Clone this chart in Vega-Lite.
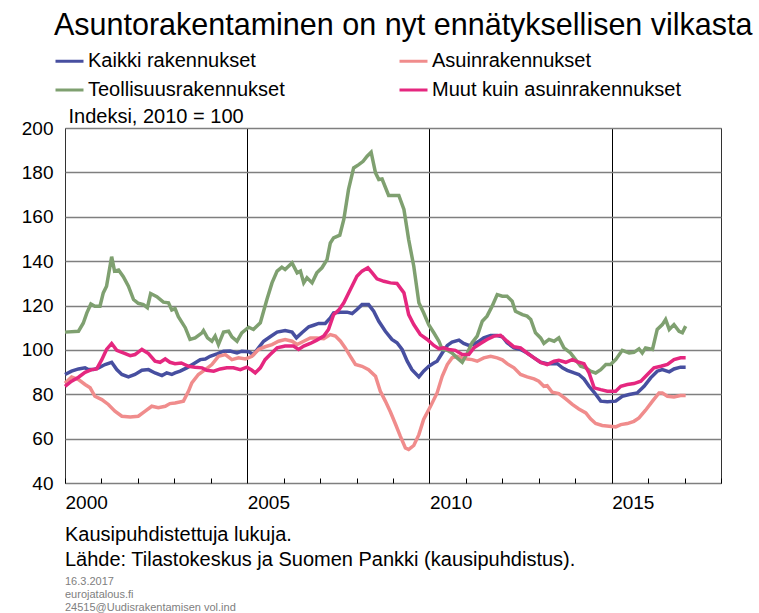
{
"$schema": "https://vega.github.io/schema/vega-lite/v6.json",
"width": 656, "height": 355,
"autosize": {"type": "none"},
"padding": {"left": 65, "top": 128, "right": 38, "bottom": 130},
"background": "white",
"title": {"text": ["Kausipuhdistettuja lukuja.", "Lähde: Tilastokeskus ja Suomen Pankki (kausipuhdistus)."], "subtitle": ["16.3.2017", "eurojatalous.fi", "24515@Uudisrakentamisen vol.ind"], "orient": "bottom", "anchor": "start", "frame": "group", "fontSize": 20, "fontWeight": "normal", "lineHeight": 25, "offset": 13, "subtitleFontSize": 11, "subtitleColor": "#808080", "subtitleLineHeight": 13, "subtitlePadding": 6, "color": "black", "baseline": "top"},
"data": {"values": [
{"s":"Kaikki rakennukset","t":2000.00,"v":88.9},{"s":"Kaikki rakennukset","t":2000.18,"v":90.4},{"s":"Kaikki rakennukset","t":2000.37,"v":91.4},{"s":"Kaikki rakennukset","t":2000.55,"v":91.9},{"s":"Kaikki rakennukset","t":2000.64,"v":91.1},{"s":"Kaikki rakennukset","t":2000.78,"v":91.1},{"s":"Kaikki rakennukset","t":2000.92,"v":91.9},{"s":"Kaikki rakennukset","t":2001.10,"v":93.4},{"s":"Kaikki rakennukset","t":2001.28,"v":94.4},{"s":"Kaikki rakennukset","t":2001.42,"v":91.1},{"s":"Kaikki rakennukset","t":2001.56,"v":88.9},{"s":"Kaikki rakennukset","t":2001.74,"v":87.8},{"s":"Kaikki rakennukset","t":2001.92,"v":88.9},{"s":"Kaikki rakennukset","t":2002.11,"v":90.8},{"s":"Kaikki rakennukset","t":2002.29,"v":91.1},{"s":"Kaikki rakennukset","t":2002.47,"v":89.6},{"s":"Kaikki rakennukset","t":2002.66,"v":88.4},{"s":"Kaikki rakennukset","t":2002.79,"v":89.6},{"s":"Kaikki rakennukset","t":2002.93,"v":88.9},{"s":"Kaikki rakennukset","t":2003.02,"v":89.6},{"s":"Kaikki rakennukset","t":2003.16,"v":90.4},{"s":"Kaikki rakennukset","t":2003.34,"v":91.9},{"s":"Kaikki rakennukset","t":2003.53,"v":93.8},{"s":"Kaikki rakennukset","t":2003.71,"v":95.6},{"s":"Kaikki rakennukset","t":2003.85,"v":95.9},{"s":"Kaikki rakennukset","t":2003.98,"v":97.1},{"s":"Kaikki rakennukset","t":2004.17,"v":98.2},{"s":"Kaikki rakennukset","t":2004.35,"v":99.4},{"s":"Kaikki rakennukset","t":2004.53,"v":99.5},{"s":"Kaikki rakennukset","t":2004.72,"v":98.6},{"s":"Kaikki rakennukset","t":2004.85,"v":99.4},{"s":"Kaikki rakennukset","t":2005.04,"v":99.2},{"s":"Kaikki rakennukset","t":2005.17,"v":97.9},{"s":"Kaikki rakennukset","t":2005.31,"v":100.9},{"s":"Kaikki rakennukset","t":2005.45,"v":103.9},{"s":"Kaikki rakennukset","t":2005.63,"v":105.9},{"s":"Kaikki rakennukset","t":2005.82,"v":108},{"s":"Kaikki rakennukset","t":2006.04,"v":108.7},{"s":"Kaikki rakennukset","t":2006.23,"v":108},{"s":"Kaikki rakennukset","t":2006.35,"v":105.4},{"s":"Kaikki rakennukset","t":2006.50,"v":107.7},{"s":"Kaikki rakennukset","t":2006.69,"v":110.4},{"s":"Kaikki rakennukset","t":2006.82,"v":111.1},{"s":"Kaikki rakennukset","t":2006.96,"v":111.9},{"s":"Kaikki rakennukset","t":2007.14,"v":111.9},{"s":"Kaikki rakennukset","t":2007.28,"v":114.4},{"s":"Kaikki rakennukset","t":2007.37,"v":116.7},{"s":"Kaikki rakennukset","t":2007.56,"v":117},{"s":"Kaikki rakennukset","t":2007.74,"v":117},{"s":"Kaikki rakennukset","t":2007.88,"v":116.4},{"s":"Kaikki rakennukset","t":2008.01,"v":118.2},{"s":"Kaikki rakennukset","t":2008.15,"v":120.4},{"s":"Kaikki rakennukset","t":2008.33,"v":120.4},{"s":"Kaikki rakennukset","t":2008.47,"v":117.4},{"s":"Kaikki rakennukset","t":2008.61,"v":112.9},{"s":"Kaikki rakennukset","t":2008.79,"v":108.4},{"s":"Kaikki rakennukset","t":2008.97,"v":104.7},{"s":"Kaikki rakennukset","t":2009.11,"v":103.2},{"s":"Kaikki rakennukset","t":2009.25,"v":100.2},{"s":"Kaikki rakennukset","t":2009.39,"v":94.9},{"s":"Kaikki rakennukset","t":2009.52,"v":91.1},{"s":"Kaikki rakennukset","t":2009.71,"v":87.8},{"s":"Kaikki rakennukset","t":2009.84,"v":90.4},{"s":"Kaikki rakennukset","t":2009.98,"v":92.6},{"s":"Kaikki rakennukset","t":2010.12,"v":94.1},{"s":"Kaikki rakennukset","t":2010.21,"v":94.9},{"s":"Kaikki rakennukset","t":2010.35,"v":98.6},{"s":"Kaikki rakennukset","t":2010.49,"v":102},{"s":"Kaikki rakennukset","t":2010.62,"v":103.5},{"s":"Kaikki rakennukset","t":2010.81,"v":104.4},{"s":"Kaikki rakennukset","t":2010.94,"v":102.9},{"s":"Kaikki rakennukset","t":2011.08,"v":102},{"s":"Kaikki rakennukset","t":2011.22,"v":102.6},{"s":"Kaikki rakennukset","t":2011.36,"v":103.9},{"s":"Kaikki rakennukset","t":2011.49,"v":105.4},{"s":"Kaikki rakennukset","t":2011.68,"v":106.5},{"s":"Kaikki rakennukset","t":2011.86,"v":106.5},{"s":"Kaikki rakennukset","t":2012.00,"v":105.9},{"s":"Kaikki rakennukset","t":2012.13,"v":103.2},{"s":"Kaikki rakennukset","t":2012.32,"v":100.9},{"s":"Kaikki rakennukset","t":2012.50,"v":100.2},{"s":"Kaikki rakennukset","t":2012.68,"v":98.6},{"s":"Kaikki rakennukset","t":2012.87,"v":96.4},{"s":"Kaikki rakennukset","t":2013.05,"v":94.4},{"s":"Kaikki rakennukset","t":2013.23,"v":93.8},{"s":"Kaikki rakennukset","t":2013.51,"v":93.8},{"s":"Kaikki rakennukset","t":2013.65,"v":91.9},{"s":"Kaikki rakennukset","t":2013.78,"v":90.8},{"s":"Kaikki rakennukset","t":2013.97,"v":89.6},{"s":"Kaikki rakennukset","t":2014.10,"v":88.9},{"s":"Kaikki rakennukset","t":2014.24,"v":86.9},{"s":"Kaikki rakennukset","t":2014.38,"v":83.6},{"s":"Kaikki rakennukset","t":2014.52,"v":80.9},{"s":"Kaikki rakennukset","t":2014.70,"v":76.9},{"s":"Kaikki rakennukset","t":2014.88,"v":76.6},{"s":"Kaikki rakennukset","t":2015.11,"v":76.9},{"s":"Kaikki rakennukset","t":2015.29,"v":79.1},{"s":"Kaikki rakennukset","t":2015.48,"v":79.9},{"s":"Kaikki rakennukset","t":2015.70,"v":80.6},{"s":"Kaikki rakennukset","t":2015.89,"v":83.6},{"s":"Kaikki rakennukset","t":2016.07,"v":87.4},{"s":"Kaikki rakennukset","t":2016.25,"v":90.4},{"s":"Kaikki rakennukset","t":2016.39,"v":91.1},{"s":"Kaikki rakennukset","t":2016.58,"v":90.1},{"s":"Kaikki rakennukset","t":2016.71,"v":91.4},{"s":"Kaikki rakennukset","t":2016.89,"v":92.2},{"s":"Kaikki rakennukset","t":2017.03,"v":92.2},
{"s":"Asuinrakennukset","t":2000.00,"v":85},{"s":"Asuinrakennukset","t":2000.18,"v":87.8},{"s":"Asuinrakennukset","t":2000.37,"v":86.6},{"s":"Asuinrakennukset","t":2000.55,"v":84.4},{"s":"Asuinrakennukset","t":2000.69,"v":82.9},{"s":"Asuinrakennukset","t":2000.82,"v":79.1},{"s":"Asuinrakennukset","t":2001.01,"v":77.6},{"s":"Asuinrakennukset","t":2001.19,"v":75.4},{"s":"Asuinrakennukset","t":2001.37,"v":72.4},{"s":"Asuinrakennukset","t":2001.56,"v":70.1},{"s":"Asuinrakennukset","t":2001.79,"v":69.8},{"s":"Asuinrakennukset","t":2002.01,"v":70.1},{"s":"Asuinrakennukset","t":2002.20,"v":72.4},{"s":"Asuinrakennukset","t":2002.38,"v":74.6},{"s":"Asuinrakennukset","t":2002.56,"v":73.9},{"s":"Asuinrakennukset","t":2002.75,"v":74.6},{"s":"Asuinrakennukset","t":2002.88,"v":75.8},{"s":"Asuinrakennukset","t":2003.02,"v":76.1},{"s":"Asuinrakennukset","t":2003.25,"v":76.9},{"s":"Asuinrakennukset","t":2003.39,"v":81.4},{"s":"Asuinrakennukset","t":2003.48,"v":85.1},{"s":"Asuinrakennukset","t":2003.66,"v":88.9},{"s":"Asuinrakennukset","t":2003.85,"v":91.1},{"s":"Asuinrakennukset","t":2004.03,"v":93.4},{"s":"Asuinrakennukset","t":2004.21,"v":97.1},{"s":"Asuinrakennukset","t":2004.40,"v":97.9},{"s":"Asuinrakennukset","t":2004.58,"v":95.6},{"s":"Asuinrakennukset","t":2004.76,"v":96.4},{"s":"Asuinrakennukset","t":2004.95,"v":95.9},{"s":"Asuinrakennukset","t":2005.13,"v":97.1},{"s":"Asuinrakennukset","t":2005.31,"v":100.2},{"s":"Asuinrakennukset","t":2005.49,"v":101.4},{"s":"Asuinrakennukset","t":2005.68,"v":102.4},{"s":"Asuinrakennukset","t":2005.86,"v":103.9},{"s":"Asuinrakennukset","t":2006.04,"v":104.7},{"s":"Asuinrakennukset","t":2006.23,"v":103.9},{"s":"Asuinrakennukset","t":2006.37,"v":102.4},{"s":"Asuinrakennukset","t":2006.55,"v":103.9},{"s":"Asuinrakennukset","t":2006.73,"v":105.4},{"s":"Asuinrakennukset","t":2006.91,"v":105.4},{"s":"Asuinrakennukset","t":2007.10,"v":105},{"s":"Asuinrakennukset","t":2007.28,"v":106.9},{"s":"Asuinrakennukset","t":2007.42,"v":106.2},{"s":"Asuinrakennukset","t":2007.56,"v":103.9},{"s":"Asuinrakennukset","t":2007.69,"v":100.9},{"s":"Asuinrakennukset","t":2007.83,"v":97.1},{"s":"Asuinrakennukset","t":2007.97,"v":93.4},{"s":"Asuinrakennukset","t":2008.15,"v":92.6},{"s":"Asuinrakennukset","t":2008.33,"v":91.1},{"s":"Asuinrakennukset","t":2008.52,"v":88.1},{"s":"Asuinrakennukset","t":2008.65,"v":81.4},{"s":"Asuinrakennukset","t":2008.79,"v":76.9},{"s":"Asuinrakennukset","t":2008.93,"v":72},{"s":"Asuinrakennukset","t":2009.07,"v":66.5},{"s":"Asuinrakennukset","t":2009.20,"v":61.1},{"s":"Asuinrakennukset","t":2009.34,"v":55.8},{"s":"Asuinrakennukset","t":2009.43,"v":55.1},{"s":"Asuinrakennukset","t":2009.57,"v":56.9},{"s":"Asuinrakennukset","t":2009.71,"v":61.8},{"s":"Asuinrakennukset","t":2009.84,"v":68.6},{"s":"Asuinrakennukset","t":2010.03,"v":74.6},{"s":"Asuinrakennukset","t":2010.21,"v":80.6},{"s":"Asuinrakennukset","t":2010.35,"v":88.1},{"s":"Asuinrakennukset","t":2010.49,"v":93.4},{"s":"Asuinrakennukset","t":2010.62,"v":96.4},{"s":"Asuinrakennukset","t":2010.76,"v":97.1},{"s":"Asuinrakennukset","t":2010.90,"v":96.4},{"s":"Asuinrakennukset","t":2011.04,"v":95.9},{"s":"Asuinrakennukset","t":2011.17,"v":95.6},{"s":"Asuinrakennukset","t":2011.31,"v":94.9},{"s":"Asuinrakennukset","t":2011.49,"v":96.4},{"s":"Asuinrakennukset","t":2011.68,"v":97.1},{"s":"Asuinrakennukset","t":2011.86,"v":96.4},{"s":"Asuinrakennukset","t":2012.00,"v":95.5},{"s":"Asuinrakennukset","t":2012.13,"v":93.8},{"s":"Asuinrakennukset","t":2012.32,"v":91.9},{"s":"Asuinrakennukset","t":2012.50,"v":88.9},{"s":"Asuinrakennukset","t":2012.68,"v":87.8},{"s":"Asuinrakennukset","t":2012.87,"v":86.9},{"s":"Asuinrakennukset","t":2013.00,"v":85.9},{"s":"Asuinrakennukset","t":2013.14,"v":83.6},{"s":"Asuinrakennukset","t":2013.23,"v":83.9},{"s":"Asuinrakennukset","t":2013.37,"v":80.9},{"s":"Asuinrakennukset","t":2013.55,"v":80.3},{"s":"Asuinrakennukset","t":2013.74,"v":77.9},{"s":"Asuinrakennukset","t":2013.92,"v":75.4},{"s":"Asuinrakennukset","t":2014.10,"v":73.4},{"s":"Asuinrakennukset","t":2014.29,"v":71.6},{"s":"Asuinrakennukset","t":2014.42,"v":68.9},{"s":"Asuinrakennukset","t":2014.56,"v":66.8},{"s":"Asuinrakennukset","t":2014.74,"v":65.9},{"s":"Asuinrakennukset","t":2014.93,"v":65.6},{"s":"Asuinrakennukset","t":2015.11,"v":65.3},{"s":"Asuinrakennukset","t":2015.25,"v":66.3},{"s":"Asuinrakennukset","t":2015.43,"v":66.8},{"s":"Asuinrakennukset","t":2015.61,"v":67.8},{"s":"Asuinrakennukset","t":2015.75,"v":69.3},{"s":"Asuinrakennukset","t":2015.93,"v":72.8},{"s":"Asuinrakennukset","t":2016.12,"v":76.9},{"s":"Asuinrakennukset","t":2016.30,"v":80.6},{"s":"Asuinrakennukset","t":2016.39,"v":80.6},{"s":"Asuinrakennukset","t":2016.53,"v":79.1},{"s":"Asuinrakennukset","t":2016.71,"v":78.8},{"s":"Asuinrakennukset","t":2016.89,"v":79.4},{"s":"Asuinrakennukset","t":2017.03,"v":79.4},
{"s":"Teollisuusrakennukset","t":2000.00,"v":108},{"s":"Teollisuusrakennukset","t":2000.37,"v":108.4},{"s":"Teollisuusrakennukset","t":2000.50,"v":112},{"s":"Teollisuusrakennukset","t":2000.60,"v":116.7},{"s":"Teollisuusrakennukset","t":2000.71,"v":120.7},{"s":"Teollisuusrakennukset","t":2000.82,"v":119.7},{"s":"Teollisuusrakennukset","t":2000.96,"v":119.7},{"s":"Teollisuusrakennukset","t":2001.05,"v":125.7},{"s":"Teollisuusrakennukset","t":2001.14,"v":128.7},{"s":"Teollisuusrakennukset","t":2001.28,"v":142},{"s":"Teollisuusrakennukset","t":2001.36,"v":135.5},{"s":"Teollisuusrakennukset","t":2001.47,"v":136},{"s":"Teollisuusrakennukset","t":2001.60,"v":133},{"s":"Teollisuusrakennukset","t":2001.74,"v":128.7},{"s":"Teollisuusrakennukset","t":2001.88,"v":122.7},{"s":"Teollisuusrakennukset","t":2002.01,"v":121},{"s":"Teollisuusrakennukset","t":2002.15,"v":120.4},{"s":"Teollisuusrakennukset","t":2002.26,"v":119},{"s":"Teollisuusrakennukset","t":2002.35,"v":125.4},{"s":"Teollisuusrakennukset","t":2002.52,"v":124},{"s":"Teollisuusrakennukset","t":2002.70,"v":121.5},{"s":"Teollisuusrakennukset","t":2002.84,"v":121.2},{"s":"Teollisuusrakennukset","t":2002.93,"v":118},{"s":"Teollisuusrakennukset","t":2003.02,"v":118.6},{"s":"Teollisuusrakennukset","t":2003.11,"v":115},{"s":"Teollisuusrakennukset","t":2003.30,"v":110},{"s":"Teollisuusrakennukset","t":2003.43,"v":104.7},{"s":"Teollisuusrakennukset","t":2003.57,"v":105.4},{"s":"Teollisuusrakennukset","t":2003.76,"v":107.7},{"s":"Teollisuusrakennukset","t":2003.80,"v":108.7},{"s":"Teollisuusrakennukset","t":2003.91,"v":105.4},{"s":"Teollisuusrakennukset","t":2004.03,"v":103.9},{"s":"Teollisuusrakennukset","t":2004.12,"v":106.2},{"s":"Teollisuusrakennukset","t":2004.21,"v":102.4},{"s":"Teollisuusrakennukset","t":2004.35,"v":108},{"s":"Teollisuusrakennukset","t":2004.49,"v":108.4},{"s":"Teollisuusrakennukset","t":2004.58,"v":105.9},{"s":"Teollisuusrakennukset","t":2004.72,"v":103.9},{"s":"Teollisuusrakennukset","t":2004.85,"v":107.7},{"s":"Teollisuusrakennukset","t":2005.04,"v":110.2},{"s":"Teollisuusrakennukset","t":2005.17,"v":109.2},{"s":"Teollisuusrakennukset","t":2005.36,"v":112.2},{"s":"Teollisuusrakennukset","t":2005.54,"v":122.7},{"s":"Teollisuusrakennukset","t":2005.68,"v":130.2},{"s":"Teollisuusrakennukset","t":2005.82,"v":135.5},{"s":"Teollisuusrakennukset","t":2005.95,"v":137.3},{"s":"Teollisuusrakennukset","t":2006.04,"v":136.2},{"s":"Teollisuusrakennukset","t":2006.23,"v":139.2},{"s":"Teollisuusrakennukset","t":2006.37,"v":134.7},{"s":"Teollisuusrakennukset","t":2006.46,"v":135.5},{"s":"Teollisuusrakennukset","t":2006.55,"v":130.2},{"s":"Teollisuusrakennukset","t":2006.64,"v":132.5},{"s":"Teollisuusrakennukset","t":2006.78,"v":130.2},{"s":"Teollisuusrakennukset","t":2006.91,"v":134.7},{"s":"Teollisuusrakennukset","t":2007.05,"v":137},{"s":"Teollisuusrakennukset","t":2007.19,"v":140.7},{"s":"Teollisuusrakennukset","t":2007.28,"v":148.2},{"s":"Teollisuusrakennukset","t":2007.37,"v":150.5},{"s":"Teollisuusrakennukset","t":2007.54,"v":151.7},{"s":"Teollisuusrakennukset","t":2007.65,"v":158.8},{"s":"Teollisuusrakennukset","t":2007.78,"v":172.3},{"s":"Teollisuusrakennukset","t":2007.92,"v":182},{"s":"Teollisuusrakennukset","t":2008.06,"v":183.5},{"s":"Teollisuusrakennukset","t":2008.18,"v":185},{"s":"Teollisuusrakennukset","t":2008.29,"v":187.3},{"s":"Teollisuusrakennukset","t":2008.40,"v":189.1},{"s":"Teollisuusrakennukset","t":2008.52,"v":179.8},{"s":"Teollisuusrakennukset","t":2008.61,"v":176.8},{"s":"Teollisuusrakennukset","t":2008.70,"v":177},{"s":"Teollisuusrakennukset","t":2008.88,"v":169.6},{"s":"Teollisuusrakennukset","t":2009.07,"v":169.6},{"s":"Teollisuusrakennukset","t":2009.16,"v":169.6},{"s":"Teollisuusrakennukset","t":2009.30,"v":163.3},{"s":"Teollisuusrakennukset","t":2009.43,"v":149.7},{"s":"Teollisuusrakennukset","t":2009.57,"v":137.7},{"s":"Teollisuusrakennukset","t":2009.71,"v":121.2},{"s":"Teollisuusrakennukset","t":2009.84,"v":116.7},{"s":"Teollisuusrakennukset","t":2009.98,"v":111.4},{"s":"Teollisuusrakennukset","t":2010.12,"v":107.7},{"s":"Teollisuusrakennukset","t":2010.26,"v":103.9},{"s":"Teollisuusrakennukset","t":2010.35,"v":100.2},{"s":"Teollisuusrakennukset","t":2010.49,"v":99.8},{"s":"Teollisuusrakennukset","t":2010.62,"v":98.6},{"s":"Teollisuusrakennukset","t":2010.76,"v":96.4},{"s":"Teollisuusrakennukset","t":2010.90,"v":94.4},{"s":"Teollisuusrakennukset","t":2011.04,"v":98.6},{"s":"Teollisuusrakennukset","t":2011.17,"v":103.2},{"s":"Teollisuusrakennukset","t":2011.31,"v":106.2},{"s":"Teollisuusrakennukset","t":2011.45,"v":112.9},{"s":"Teollisuusrakennukset","t":2011.58,"v":115.2},{"s":"Teollisuusrakennukset","t":2011.72,"v":119.7},{"s":"Teollisuusrakennukset","t":2011.86,"v":124.9},{"s":"Teollisuusrakennukset","t":2012.00,"v":124.2},{"s":"Teollisuusrakennukset","t":2012.13,"v":124.2},{"s":"Teollisuusrakennukset","t":2012.27,"v":121.9},{"s":"Teollisuusrakennukset","t":2012.36,"v":117.4},{"s":"Teollisuusrakennukset","t":2012.55,"v":115.9},{"s":"Teollisuusrakennukset","t":2012.68,"v":115.2},{"s":"Teollisuusrakennukset","t":2012.78,"v":113.7},{"s":"Teollisuusrakennukset","t":2012.91,"v":107.7},{"s":"Teollisuusrakennukset","t":2013.05,"v":105.4},{"s":"Teollisuusrakennukset","t":2013.14,"v":102.9},{"s":"Teollisuusrakennukset","t":2013.28,"v":104.7},{"s":"Teollisuusrakennukset","t":2013.42,"v":103.9},{"s":"Teollisuusrakennukset","t":2013.55,"v":105.4},{"s":"Teollisuusrakennukset","t":2013.69,"v":100.9},{"s":"Teollisuusrakennukset","t":2013.87,"v":98.6},{"s":"Teollisuusrakennukset","t":2014.01,"v":95.6},{"s":"Teollisuusrakennukset","t":2014.15,"v":92.6},{"s":"Teollisuusrakennukset","t":2014.29,"v":91.9},{"s":"Teollisuusrakennukset","t":2014.42,"v":90.4},{"s":"Teollisuusrakennukset","t":2014.56,"v":89.6},{"s":"Teollisuusrakennukset","t":2014.70,"v":91.1},{"s":"Teollisuusrakennukset","t":2014.84,"v":93.4},{"s":"Teollisuusrakennukset","t":2014.97,"v":93.4},{"s":"Teollisuusrakennukset","t":2015.11,"v":95.6},{"s":"Teollisuusrakennukset","t":2015.29,"v":99.8},{"s":"Teollisuusrakennukset","t":2015.48,"v":98.6},{"s":"Teollisuusrakennukset","t":2015.61,"v":98.9},{"s":"Teollisuusrakennukset","t":2015.75,"v":100.5},{"s":"Teollisuusrakennukset","t":2015.84,"v":98.6},{"s":"Teollisuusrakennukset","t":2015.93,"v":100.9},{"s":"Teollisuusrakennukset","t":2016.12,"v":100.2},{"s":"Teollisuusrakennukset","t":2016.25,"v":109.2},{"s":"Teollisuusrakennukset","t":2016.39,"v":111.4},{"s":"Teollisuusrakennukset","t":2016.48,"v":113.7},{"s":"Teollisuusrakennukset","t":2016.58,"v":109.2},{"s":"Teollisuusrakennukset","t":2016.71,"v":111.4},{"s":"Teollisuusrakennukset","t":2016.85,"v":108.4},{"s":"Teollisuusrakennukset","t":2016.94,"v":107.7},{"s":"Teollisuusrakennukset","t":2017.03,"v":110.7},
{"s":"Muut kuin asuinrakennukset","t":2000.00,"v":83.6},{"s":"Muut kuin asuinrakennukset","t":2000.18,"v":85.9},{"s":"Muut kuin asuinrakennukset","t":2000.37,"v":87.7},{"s":"Muut kuin asuinrakennukset","t":2000.55,"v":89.9},{"s":"Muut kuin asuinrakennukset","t":2000.73,"v":91.1},{"s":"Muut kuin asuinrakennukset","t":2000.87,"v":91.4},{"s":"Muut kuin asuinrakennukset","t":2001.01,"v":95.6},{"s":"Muut kuin asuinrakennukset","t":2001.14,"v":100.2},{"s":"Muut kuin asuinrakennukset","t":2001.28,"v":102.9},{"s":"Muut kuin asuinrakennukset","t":2001.42,"v":99.8},{"s":"Muut kuin asuinrakennukset","t":2001.60,"v":98.6},{"s":"Muut kuin asuinrakennukset","t":2001.79,"v":97.4},{"s":"Muut kuin asuinrakennukset","t":2001.92,"v":97.9},{"s":"Muut kuin asuinrakennukset","t":2002.11,"v":100.2},{"s":"Muut kuin asuinrakennukset","t":2002.29,"v":98.3},{"s":"Muut kuin asuinrakennukset","t":2002.47,"v":94.9},{"s":"Muut kuin asuinrakennukset","t":2002.61,"v":94.4},{"s":"Muut kuin asuinrakennukset","t":2002.75,"v":95.9},{"s":"Muut kuin asuinrakennukset","t":2002.88,"v":94.4},{"s":"Muut kuin asuinrakennukset","t":2003.02,"v":93.8},{"s":"Muut kuin asuinrakennukset","t":2003.19,"v":94.1},{"s":"Muut kuin asuinrakennukset","t":2003.39,"v":92.6},{"s":"Muut kuin asuinrakennukset","t":2003.57,"v":92.2},{"s":"Muut kuin asuinrakennukset","t":2003.76,"v":91.9},{"s":"Muut kuin asuinrakennukset","t":2003.89,"v":90.8},{"s":"Muut kuin asuinrakennukset","t":2004.08,"v":90.4},{"s":"Muut kuin asuinrakennukset","t":2004.26,"v":91.4},{"s":"Muut kuin asuinrakennukset","t":2004.44,"v":91.9},{"s":"Muut kuin asuinrakennukset","t":2004.62,"v":91.9},{"s":"Muut kuin asuinrakennukset","t":2004.81,"v":91.1},{"s":"Muut kuin asuinrakennukset","t":2004.99,"v":92.2},{"s":"Muut kuin asuinrakennukset","t":2005.13,"v":90.8},{"s":"Muut kuin asuinrakennukset","t":2005.22,"v":89.6},{"s":"Muut kuin asuinrakennukset","t":2005.36,"v":91.9},{"s":"Muut kuin asuinrakennukset","t":2005.49,"v":95.6},{"s":"Muut kuin asuinrakennukset","t":2005.63,"v":97.9},{"s":"Muut kuin asuinrakennukset","t":2005.82,"v":100.9},{"s":"Muut kuin asuinrakennukset","t":2006.04,"v":101.7},{"s":"Muut kuin asuinrakennukset","t":2006.27,"v":101.7},{"s":"Muut kuin asuinrakennukset","t":2006.41,"v":100.2},{"s":"Muut kuin asuinrakennukset","t":2006.55,"v":101.7},{"s":"Muut kuin asuinrakennukset","t":2006.73,"v":102.9},{"s":"Muut kuin asuinrakennukset","t":2006.91,"v":104.4},{"s":"Muut kuin asuinrakennukset","t":2007.10,"v":106.2},{"s":"Muut kuin asuinrakennukset","t":2007.23,"v":109.2},{"s":"Muut kuin asuinrakennukset","t":2007.37,"v":115.9},{"s":"Muut kuin asuinrakennukset","t":2007.51,"v":117.9},{"s":"Muut kuin asuinrakennukset","t":2007.65,"v":121.2},{"s":"Muut kuin asuinrakennukset","t":2007.83,"v":127.2},{"s":"Muut kuin asuinrakennukset","t":2008.01,"v":133.2},{"s":"Muut kuin asuinrakennukset","t":2008.15,"v":135.5},{"s":"Muut kuin asuinrakennukset","t":2008.31,"v":137},{"s":"Muut kuin asuinrakennukset","t":2008.43,"v":134.7},{"s":"Muut kuin asuinrakennukset","t":2008.56,"v":132},{"s":"Muut kuin asuinrakennukset","t":2008.75,"v":130.9},{"s":"Muut kuin asuinrakennukset","t":2008.93,"v":130.2},{"s":"Muut kuin asuinrakennukset","t":2009.11,"v":129.9},{"s":"Muut kuin asuinrakennukset","t":2009.30,"v":125.7},{"s":"Muut kuin asuinrakennukset","t":2009.43,"v":115.9},{"s":"Muut kuin asuinrakennukset","t":2009.57,"v":111.4},{"s":"Muut kuin asuinrakennukset","t":2009.75,"v":106.9},{"s":"Muut kuin asuinrakennukset","t":2009.94,"v":104.7},{"s":"Muut kuin asuinrakennukset","t":2010.12,"v":102},{"s":"Muut kuin asuinrakennukset","t":2010.26,"v":100.5},{"s":"Muut kuin asuinrakennukset","t":2010.39,"v":100.9},{"s":"Muut kuin asuinrakennukset","t":2010.53,"v":100.2},{"s":"Muut kuin asuinrakennukset","t":2010.71,"v":99.8},{"s":"Muut kuin asuinrakennukset","t":2010.90,"v":97.9},{"s":"Muut kuin asuinrakennukset","t":2011.08,"v":97.9},{"s":"Muut kuin asuinrakennukset","t":2011.22,"v":100.9},{"s":"Muut kuin asuinrakennukset","t":2011.40,"v":102.9},{"s":"Muut kuin asuinrakennukset","t":2011.58,"v":104.7},{"s":"Muut kuin asuinrakennukset","t":2011.77,"v":106.2},{"s":"Muut kuin asuinrakennukset","t":2011.95,"v":106.6},{"s":"Muut kuin asuinrakennukset","t":2012.13,"v":103.9},{"s":"Muut kuin asuinrakennukset","t":2012.32,"v":101.4},{"s":"Muut kuin asuinrakennukset","t":2012.50,"v":100.9},{"s":"Muut kuin asuinrakennukset","t":2012.68,"v":98.6},{"s":"Muut kuin asuinrakennukset","t":2012.87,"v":96.4},{"s":"Muut kuin asuinrakennukset","t":2013.05,"v":94.4},{"s":"Muut kuin asuinrakennukset","t":2013.23,"v":93.4},{"s":"Muut kuin asuinrakennukset","t":2013.42,"v":94.9},{"s":"Muut kuin asuinrakennukset","t":2013.55,"v":95.3},{"s":"Muut kuin asuinrakennukset","t":2013.74,"v":94.4},{"s":"Muut kuin asuinrakennukset","t":2013.92,"v":95.6},{"s":"Muut kuin asuinrakennukset","t":2014.10,"v":94.4},{"s":"Muut kuin asuinrakennukset","t":2014.24,"v":93.8},{"s":"Muut kuin asuinrakennukset","t":2014.38,"v":89.6},{"s":"Muut kuin asuinrakennukset","t":2014.52,"v":82.9},{"s":"Muut kuin asuinrakennukset","t":2014.70,"v":82.1},{"s":"Muut kuin asuinrakennukset","t":2014.88,"v":81.4},{"s":"Muut kuin asuinrakennukset","t":2015.11,"v":81.4},{"s":"Muut kuin asuinrakennukset","t":2015.25,"v":83.6},{"s":"Muut kuin asuinrakennukset","t":2015.43,"v":84.4},{"s":"Muut kuin asuinrakennukset","t":2015.61,"v":84.8},{"s":"Muut kuin asuinrakennukset","t":2015.80,"v":85.9},{"s":"Muut kuin asuinrakennukset","t":2015.98,"v":88.9},{"s":"Muut kuin asuinrakennukset","t":2016.16,"v":91.9},{"s":"Muut kuin asuinrakennukset","t":2016.35,"v":92.6},{"s":"Muut kuin asuinrakennukset","t":2016.53,"v":93.4},{"s":"Muut kuin asuinrakennukset","t":2016.71,"v":95.6},{"s":"Muut kuin asuinrakennukset","t":2016.89,"v":96.4},{"s":"Muut kuin asuinrakennukset","t":2017.03,"v":96.4}
]},
"mark": {"type": "line", "strokeWidth": 3.5},
"encoding": {
  "x": {"field": "t", "type": "quantitative",
    "scale": {"domain": [2000, 2018], "nice": false, "zero": false},
    "axis": {"values": [2000,2001,2002,2003,2004,2005,2006,2007,2008,2009,2010,2011,2012,2013,2014,2015,2016,2017,2018],
      "title": null, "format": "d",
      "labelExpr": "datum.value % 5 === 0 && datum.value < 2018 ? datum.label : ''",
      "labelAlign": "left", "labelFontSize": 19, "labelPadding": 15, "labelFlush": false, "labelOverlap": false, "labelColor": "black",
      "tickSize": -5, "tickColor": "#000", "tickWidth": 1, "domain": false,
      "grid": true, "gridColor": "#000", "gridWidth": 1,
      "gridOpacity": {"condition": {"test": "datum.value % 5 === 0 && datum.value > 2000 && datum.value < 2018", "value": 1}, "value": 0}}},
  "y": {"field": "v", "type": "quantitative",
    "scale": {"domain": [40, 200], "nice": false, "zero": false},
    "axis": {"values": [40,60,80,100,120,140,160,180,200],
      "title": "Indeksi, 2010 = 100", "titleAngle": 0, "titleAlign": "left", "titleBaseline": "alphabetic", "titleX": 3, "titleY": -6, "titleFontSize": 20, "titleFontWeight": "normal", "titleColor": "black",
      "labelFontSize": 19, "labelPadding": 12, "labelColor": "black", "ticks": false, "domain": false,
      "grid": true, "gridColor": "#7f7f7f", "gridWidth": 1.5}},
  "color": {"field": "s", "type": "nominal",
    "scale": {"domain": ["Kaikki rakennukset", "Teollisuusrakennukset", "Asuinrakennukset", "Muut kuin asuinrakennukset"],
      "range": ["#474FA0", "#7FA070", "#F08C8C", "#E5277F"]},
    "legend": {"orient": "none", "legendX": -11, "legendY": -117, "columns": 2,
      "title": "Asuntorakentaminen on nyt ennätyksellisen vilkasta", "titleFontSize": 30.5, "titleFontWeight": "normal", "titleColor": "black", "titleLimit": 900, "titlePadding": 4,
      "labelFontSize": 20, "labelLimit": 600, "labelColor": "black", "labelOffset": 3,
      "symbolType": "stroke", "symbolSize": 784, "symbolStrokeWidth": 3,
      "columnPadding": 108, "rowPadding": 3, "padding": 0}}
},
"config": {"font": "Liberation Sans", "view": {"stroke": "#333"}}
}
